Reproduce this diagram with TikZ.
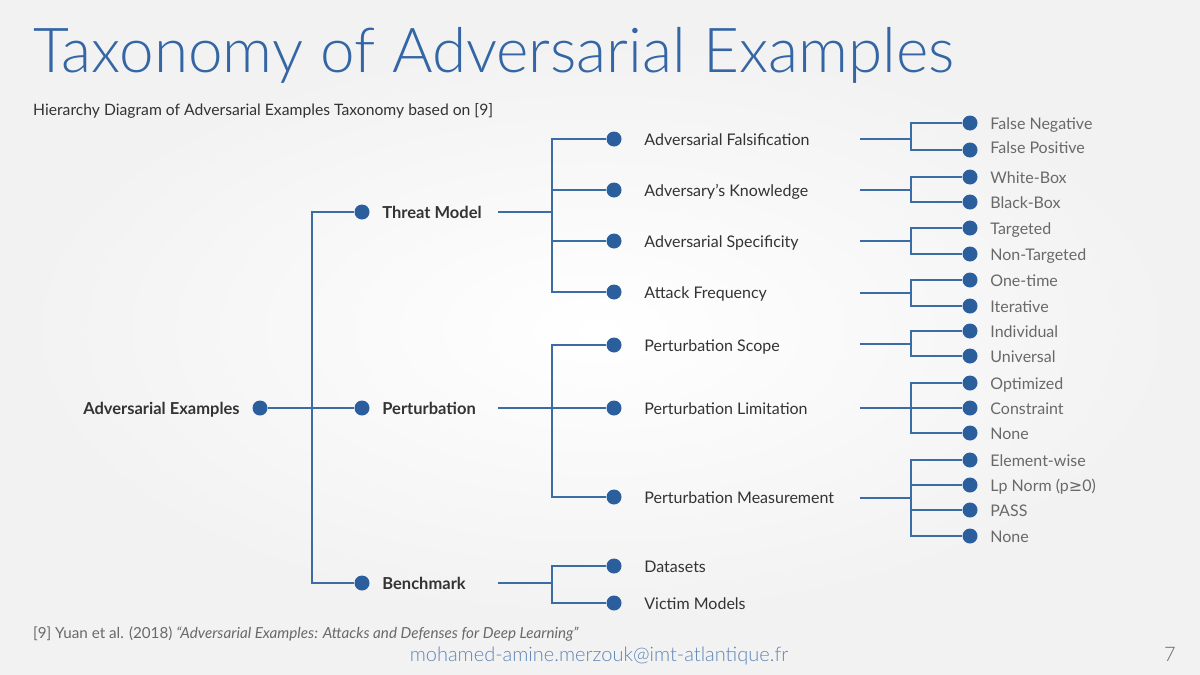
\documentclass[tikz,border=0pt]{standalone}
\usepackage{fontspec}
\setmainfont{Lato}
\newfontfamily\lightfont{Lato Light}
\newfontfamily\symfont{DejaVu Sans}
\usetikzlibrary{positioning}
\definecolor{titleblue}{RGB}{52, 102, 165}
\definecolor{dotblue}{RGB}{42, 94, 156}
\definecolor{lineblue}{RGB}{58, 108, 165}
\definecolor{textdark}{RGB}{51, 51, 51}
\definecolor{textgray}{RGB}{105, 105, 105}
\definecolor{slidebg}{RGB}{242, 242, 242}

\begin{document}
\begin{tikzpicture}[x=1pt, y=-1pt,
  dot/.style={circle, fill=dotblue, inner sep=0pt, minimum size=15pt},
  link/.style={draw=lineblue, line width=1.4pt},
  toplabel/.style={anchor=west, inner sep=0pt, text height=13.5pt, text depth=0pt, font=\fontsize{16.5}{18}\selectfont\bfseries, text=textdark},
  midlabel/.style={anchor=west, inner sep=0pt, text height=13.5pt, text depth=0pt, font=\fontsize{16}{18}\selectfont, text=textdark},
  leaflabel/.style={anchor=west, inner sep=0pt, text height=12.5pt, text depth=0pt, font=\fontsize{16}{18}\selectfont, text=textgray}]

  % Slide background
  \fill[slidebg] (0,0) rectangle (1200,675);
  \shade[inner color=white, outer color=slidebg] (600,330) ellipse (580 and 290);
  \useasboundingbox (0,0) rectangle (1200,675);

  % Title and subtitle
  \node[anchor=base west, inner sep=0pt, font=\lightfont\fontsize{62}{66}\selectfont, text=titleblue] (title) at (33,72) {Taxonomy of Adversarial Examples};
  \node[anchor=base west, inner sep=0pt, font=\fontsize{15.7}{18}\selectfont, text=textdark] (subtitle) at (33,115) {Hierarchy Diagram of Adversarial Examples Taxonomy based on [9]};

  % Root
  \node[dot] (root) at (260,408) {};
  \node[toplabel, left=12.5pt of root] (root-l) {Adversarial Examples};

  % First level
  \node[dot] (threat) at (362,212) {};
  \node[dot] (pert) at (362,408) {};
  \node[dot] (bench) at (362,583) {};
  \node[toplabel, right=12.5pt of threat] (threat-l) {Threat Model};
  \node[toplabel, right=12.5pt of pert] (pert-l) {Perturbation};
  \node[toplabel, right=12.5pt of bench] (bench-l) {Benchmark};

  \coordinate (root-j) at (312,408);
  \draw[link] (root) -- (pert);
  \draw[link] (root-j) |- (threat);
  \draw[link] (root-j) |- (bench);

  % Second level
  \node[dot] (fals) at (614,139) {};
  \node[dot] (know) at (614,190) {};
  \node[dot] (spec) at (614,241) {};
  \node[dot] (freq) at (614,292) {};
  \node[dot] (scope) at (614,345) {};
  \node[dot] (limit) at (614,408) {};
  \node[dot] (meas) at (614,497) {};
  \node[dot] (data) at (614,566) {};
  \node[dot] (victim) at (614,603) {};
  \node[midlabel, right=22.5pt of fals] (fals-l) {Adversarial Falsification};
  \node[midlabel, right=22.5pt of know] (know-l) {Adversary’s Knowledge};
  \node[midlabel, right=22.5pt of spec] (spec-l) {Adversarial Specificity};
  \node[midlabel, right=22.5pt of freq] (freq-l) {Attack Frequency};
  \node[midlabel, right=22.5pt of scope] (scope-l) {Perturbation Scope};
  \node[midlabel, right=22.5pt of limit] (limit-l) {Perturbation Limitation};
  \node[midlabel, right=22.5pt of meas] (meas-l) {Perturbation Measurement};
  \node[midlabel, right=22.5pt of data] (data-l) {Datasets};
  \node[midlabel, right=22.5pt of victim] (victim-l) {Victim Models};

  \coordinate (threat-o) at (498,212);
  \coordinate (threat-j) at (552,212);
  \coordinate (pert-o) at (498,408);
  \coordinate (pert-j) at (552,408);
  \coordinate (bench-o) at (498,583);
  \coordinate (bench-j) at (552,583);
  \draw[link] (threat-o) -- (threat-j);
  \draw[link] (pert-o) -- (pert-j);
  \draw[link] (bench-o) -- (bench-j);
  \draw[link] (threat-j) |- (fals);
  \draw[link] (threat-j) |- (know);
  \draw[link] (threat-j) |- (spec);
  \draw[link] (threat-j) |- (freq);
  \draw[link] (pert-j) |- (scope);
  \draw[link] (pert-j) |- (limit);
  \draw[link] (pert-j) |- (meas);
  \draw[link] (bench-j) |- (data);
  \draw[link] (bench-j) |- (victim);

  % Third level
  \node[dot] (fneg) at (970,123) {};
  \node[dot] (fpos) at (970,150) {};
  \node[dot] (wbox) at (970,177) {};
  \node[dot] (bbox) at (970,202) {};
  \node[dot] (targ) at (970,228) {};
  \node[dot] (ntarg) at (970,254) {};
  \node[dot] (once) at (970,280) {};
  \node[dot] (iter) at (970,306) {};
  \node[dot] (indiv) at (970,331) {};
  \node[dot] (univ) at (970,356) {};
  \node[dot] (optim) at (970,383) {};
  \node[dot] (constr) at (970,408) {};
  \node[dot] (lnone) at (970,433) {};
  \node[dot] (elem) at (970,460) {};
  \node[dot] (lpnorm) at (970,485) {};
  \node[dot] (pass) at (970,510) {};
  \node[dot] (mnone) at (970,536) {};
  \node[leaflabel, right=12.5pt of fneg] {False Negative};
  \node[leaflabel, right=12.5pt of fpos, yshift=3pt] {False Positive};
  \node[leaflabel, right=12.5pt of wbox] {White-Box};
  \node[leaflabel, right=12.5pt of bbox] {Black-Box};
  \node[leaflabel, right=12.5pt of targ] {Targeted};
  \node[leaflabel, right=12.5pt of ntarg] {Non-Targeted};
  \node[leaflabel, right=12.5pt of once] {One-time};
  \node[leaflabel, right=12.5pt of iter] {Iterative};
  \node[leaflabel, right=12.5pt of indiv] {Individual};
  \node[leaflabel, right=12.5pt of univ] {Universal};
  \node[leaflabel, right=12.5pt of optim] {Optimized};
  \node[leaflabel, right=12.5pt of constr] {Constraint};
  \node[leaflabel, right=12.5pt of lnone] {None};
  \node[leaflabel, right=12.5pt of elem] {Element-wise};
  \node[leaflabel, right=12.5pt of lpnorm] {Lp Norm (p{\symfont ≥}0)};
  \node[leaflabel, right=12.5pt of pass] {PASS};
  \node[leaflabel, right=12.5pt of mnone] {None};

  \coordinate (fals-o) at (860,139);
  \coordinate (fals-j) at (911,139);
  \coordinate (know-o) at (860,190);
  \coordinate (know-j) at (911,190);
  \coordinate (spec-o) at (860,241);
  \coordinate (spec-j) at (911,241);
  \coordinate (freq-o) at (860,293);
  \coordinate (freq-j) at (911,293);
  \coordinate (scope-o) at (860,344);
  \coordinate (scope-j) at (911,344);
  \coordinate (limit-o) at (860,408);
  \coordinate (limit-j) at (911,408);
  \coordinate (meas-o) at (860,498);
  \coordinate (meas-j) at (911,498);
  \draw[link] (fals-o) -- (fals-j);
  \draw[link] (know-o) -- (know-j);
  \draw[link] (spec-o) -- (spec-j);
  \draw[link] (freq-o) -- (freq-j);
  \draw[link] (scope-o) -- (scope-j);
  \draw[link] (limit-o) -- (limit-j);
  \draw[link] (meas-o) -- (meas-j);
  \draw[link] (fals-j) |- (fneg);
  \draw[link] (fals-j) |- (fpos);
  \draw[link] (know-j) |- (wbox);
  \draw[link] (know-j) |- (bbox);
  \draw[link] (spec-j) |- (targ);
  \draw[link] (spec-j) |- (ntarg);
  \draw[link] (freq-j) |- (once);
  \draw[link] (freq-j) |- (iter);
  \draw[link] (scope-j) |- (indiv);
  \draw[link] (scope-j) |- (univ);
  \draw[link] (limit-j) |- (optim);
  \draw[link] (limit-j) -- (constr);
  \draw[link] (limit-j) |- (lnone);
  \draw[link] (meas-j) |- (elem);
  \draw[link] (meas-j) |- (lpnorm);
  \draw[link] (meas-j) |- (pass);
  \draw[link] (meas-j) |- (mnone);

  % Footer
  \node[anchor=base west, inner sep=0pt, font=\fontsize{15.2}{17}\selectfont, text=textgray] (ref) at (33,638) {[9] Yuan et al. (2018) \textit{“Adversarial Examples: Attacks and Defenses for Deep Learning”}};
  \node[anchor=base, inner sep=0pt, font=\lightfont\fontsize{20}{22}\selectfont, text=titleblue!80] (mail) at (599,661) {mohamed-amine.merzouk@imt-atlantique.fr};
  \node[anchor=base east, inner sep=0pt, font=\lightfont\fontsize{20}{22}\selectfont, text=textgray] (page) at (1176,661) {7};
\end{tikzpicture}
\end{document}
